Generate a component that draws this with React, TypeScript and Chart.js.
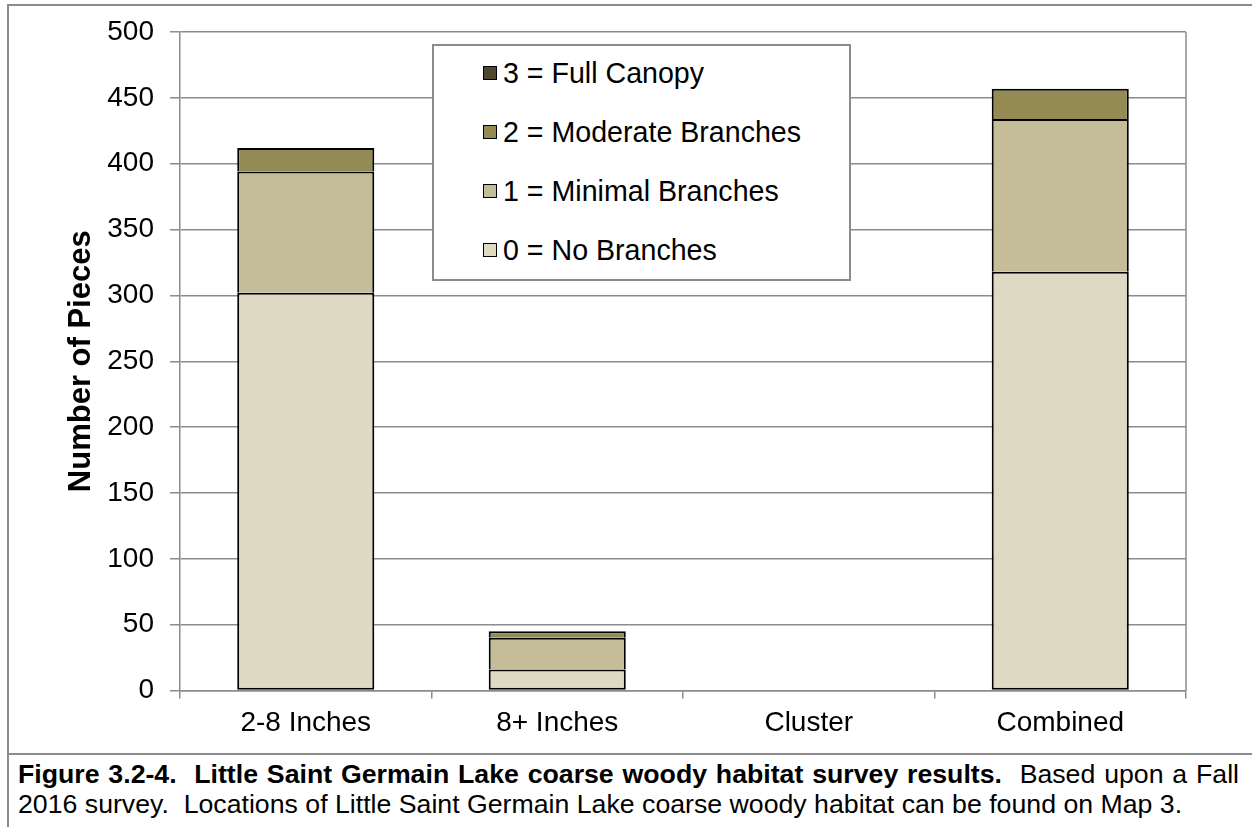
import React, { useEffect, useRef } from "react";
import { Chart, registerables } from "chart.js";

Chart.register(...registerables);

const categories = ["2-8 Inches", "8+ Inches", "Cluster", "Combined"];
const seriesLabels = ["0 = No Branches", "1 = Minimal Branches", "2 = Moderate Branches", "3 = Full Canopy"];
const noBranches = [302, 16, 0, 318];
const minimalBranches = [92, 24, 0, 116];
const moderateBranches = [18, 5, 0, 23];
const fullCanopy = [0, 0, 0, 0];
const seriesColors = ["#DDD9C3", "#C4BD97", "#948A54", "#4F4830"];
const yMin = 0;
const yMax = 500;
const yStep = 50;
const yTitle = "Number of Pieces";
const captionBold = "Figure 3.2-4.  Little Saint Germain Lake coarse woody habitat survey results.";
const captionRest1 = "  Based upon a Fall";
const captionLine2 = "2016 survey.  Locations of Little Saint Germain Lake coarse woody habitat can be found on Map 3.";

const FONT = '"Liberation Sans", Arial, sans-serif';
const GRAY = "#8c8c8c";

const seriesData = [noBranches, minimalBranches, moderateBranches, fullCanopy];

const plotBorder = {
  id: "plotBorder",
  afterDraw(chart: any) {
    const { ctx, chartArea } = chart;
    ctx.save();
    ctx.strokeStyle = GRAY;
    ctx.lineWidth = 1.5;
    ctx.beginPath();
    ctx.moveTo(chartArea.right, chartArea.top);
    ctx.lineTo(chartArea.right, chartArea.bottom);
    ctx.stroke();
    ctx.restore();
  },
};

export default function App() {
  const ref = useRef<HTMLCanvasElement | null>(null);

  useEffect(() => {
    if (!ref.current) return;
    const chart = new Chart(ref.current, {
      type: "bar",
      data: {
        labels: categories,
        datasets: seriesData.map((d, i) => ({
          label: seriesLabels[i],
          data: d,
          backgroundColor: seriesColors[i],
          borderColor: "#000000",
          borderWidth: (c: any) => (c.raw ? 2 : 0),
          borderSkipped: i === 0 ? false : "start",
          barPercentage: 0.545,
          categoryPercentage: 1,
        })),
      },
      plugins: [plotBorder],
      options: {
        responsive: false,
        animation: false,
        devicePixelRatio: 1,
        layout: { padding: { left: 0, top: 25, right: 57, bottom: 0 } },
        plugins: { legend: { display: false }, tooltip: { enabled: false } },
        scales: {
          x: {
            stacked: true,
            offset: true,
            grid: {
              offset: true,
              drawOnChartArea: false,
              color: GRAY,
              lineWidth: 1.5,
              tickLength: 8,
            },
            border: { color: GRAY, width: 1.5 },
            ticks: {
              color: "#000",
              padding: 8,
              font: { family: FONT, size: 28 },
              maxRotation: 0,
            },
            afterFit: (s: any) => {
              s.height = 61.5;
              s.paddingLeft = 0;
              s.paddingRight = 0;
            },
          },
          y: {
            stacked: true,
            min: yMin,
            max: yMax,
            ticks: {
              stepSize: yStep,
              color: "#000",
              padding: 16,
              font: { family: FONT, size: 28 },
            },
            grid: { color: GRAY, lineWidth: 1.5, tickLength: 10 },
            border: { color: GRAY, width: 1.5 },
            title: {
              display: true,
              text: yTitle,
              color: "#000",
              font: { family: FONT, size: 31, weight: "bold" },
              padding: { top: 53, bottom: 0 },
            },
            afterFit: (s: any) => {
              s.width = 170;
              s.paddingTop = 0;
              s.paddingBottom = 0;
            },
          },
        },
      },
    } as any);
    return () => chart.destroy();
  }, []);

  const legendOrder = [3, 2, 1, 0];

  return (
    <div style={{ position: "absolute", left: 0, top: 0, width: 1252, height: 827, overflow: "hidden", background: "#fff", fontFamily: FONT }}>
      <div style={{ position: "absolute", left: 7, top: 4, width: 1245, height: 2, background: GRAY }} />
      <div style={{ position: "absolute", left: 7, top: 4, width: 2, height: 823, background: GRAY }} />
      <div style={{ position: "absolute", left: 7, top: 753, width: 1245, height: 2, background: GRAY }} />
      <canvas ref={ref} width={1233} height={745} style={{ position: "absolute", left: 10, top: 7, width: 1233, height: 745 }} />
      <div
        style={{
          position: "absolute",
          left: 432,
          top: 44,
          width: 415,
          height: 233,
          border: `2px solid ${GRAY}`,
          background: "#fff",
        }}
      >
        {legendOrder.map((idx, row) => (
          <div
            key={idx}
            style={{
              position: "absolute",
              left: 49,
              top: 10 + row * 59,
              height: 34,
              display: "flex",
              alignItems: "center",
              whiteSpace: "nowrap",
            }}
          >
            <span
              style={{
                display: "inline-block",
                width: 12,
                height: 12,
                border: "1.5px solid #000",
                background: seriesColors[idx],
                marginRight: 6,
              }}
            />
            <span style={{ fontSize: 28.6, color: "#000", lineHeight: "34px" }}>{seriesLabels[idx]}</span>
          </div>
        ))}
      </div>
      <div style={{ position: "absolute", left: 18, top: 759, fontSize: 26.7, lineHeight: "30px", color: "#000", whiteSpace: "pre" }}>
        <div style={{ width: 1221, textAlign: "justify", textAlignLast: "justify" } as any}>
          <b>{captionBold}</b>
          {captionRest1}
        </div>
        <div>{captionLine2}</div>
      </div>
    </div>
  );
}
